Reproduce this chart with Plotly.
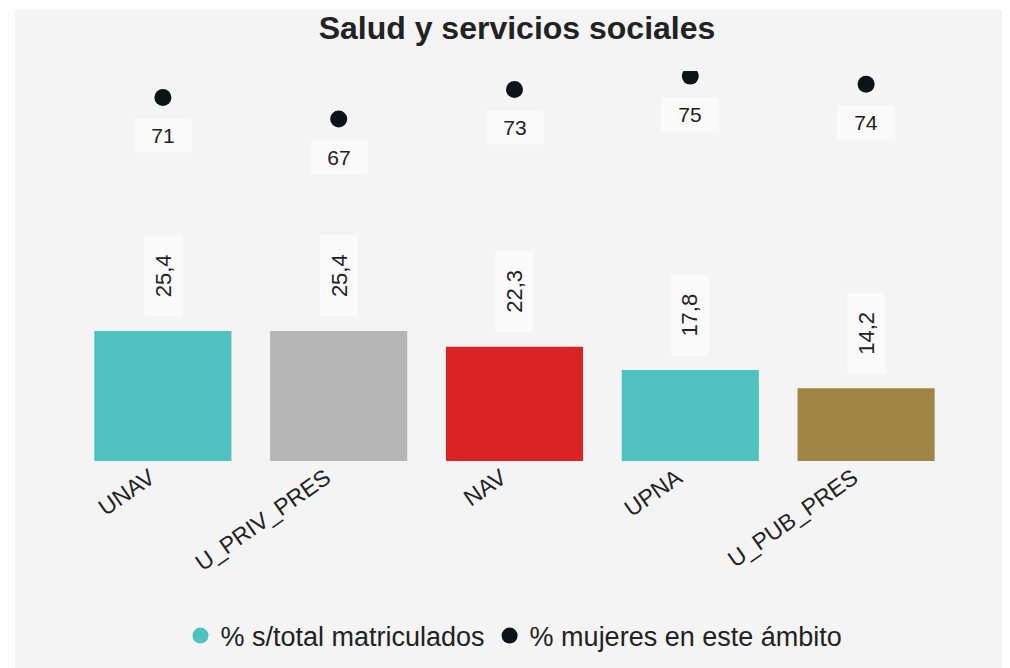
import plotly.graph_objects as go

categories = ["UNAV", "U_PRIV_PRES", "NAV", "UPNA", "U_PUB_PRES"]
pct_matriculados = [25.4, 25.4, 22.3, 17.8, 14.2]
pct_mujeres = [71.0, 66.8, 72.6, 75.2, 73.6]
bar_colors = ["#4fc2bf", "#b5b5b5", "#da2325", "#4fc2bf", "#a08444"]

title_text = "Salud y servicios sociales"
legend_bar = "% s/total matriculados"
legend_dot = "% mujeres en este ámbito"

FONT = "Liberation Sans, Arial, sans-serif"
TXT = "#222222"
BG = "#f4f4f4"
OFF = 8  # page body margin
W, H = 1010, 668
ML, MT = 74.5 - OFF, 71 - OFF
PW, PH = 880, 390
MR = W - ML - PW
MB = H - MT - PH
BASE = MT + PH  # y of baseline in figure coords

fig = go.Figure()
fig.add_trace(go.Bar(
    x=categories, y=pct_matriculados, marker=dict(color=bar_colors, line=dict(width=0)),
    showlegend=False, hoverinfo="skip",
))
fig.add_trace(go.Scatter(
    x=[None], y=[None], mode="markers", marker=dict(color=bar_colors[0], size=19),
    name=legend_bar, hoverinfo="skip",
))
fig.add_trace(go.Scatter(
    x=categories, y=pct_mujeres, mode="markers",
    marker=dict(color="#0f1217", size=17), name=legend_dot, hoverinfo="skip",
    cliponaxis=True,
))

annotations = []
for c, v in zip(categories, pct_matriculados):
    annotations.append(dict(
        x=c, y=v, xref="x", yref="y", text=f"{v:.1f}".replace(".", ","),
        showarrow=False, textangle=-90, yanchor="middle", xanchor="center",
        yshift=55, bgcolor="#fafafa", width=78, height=35,
        font=dict(family=FONT, size=22, color=TXT),
    ))
for c, v in zip(categories, pct_mujeres):
    annotations.append(dict(
        x=c, y=v, xref="x", yref="y", text=f"{v:.0f}",
        showarrow=False, yanchor="middle", xanchor="center",
        yshift=-38, bgcolor="#fafafa", width=54, height=31,
        font=dict(family=FONT, size=21, color=TXT),
    ))

fig.update_layout(
    width=W, height=H,
    margin=dict(l=ML, r=MR, t=MT, b=MB, pad=0),
    paper_bgcolor=BG, plot_bgcolor="rgba(0,0,0,0)",
    font=dict(family=FONT, size=22, color=TXT),
    title=dict(text=f"<b>{title_text}</b>", x=(517 - OFF) / W, xref="container",
               xanchor="center",
               y=1 - (28 - OFF) / H, yref="container", yanchor="middle",
               font=dict(family=FONT, size=32, color=TXT)),
    bargap=0.22,
    showlegend=True,
    legend=dict(orientation="h", x=((514 - OFF) - ML) / PW, xanchor="center",
                y=-((636 - OFF) - BASE) / PH,
                yanchor="middle", font=dict(family=FONT, size=27, color=TXT),
                bgcolor="rgba(0,0,0,0)", itemwidth=30),
    xaxis=dict(tickangle=-35, showgrid=False, zeroline=False, showline=False,
               ticks="", tickfont=dict(family=FONT, size=23, color=TXT),
               ticklabelshift=-13, ticklabelstandoff=-2,
               range=[-0.5, 4.5]),
    yaxis=dict(range=[0, 76.2], visible=False, showgrid=False, zeroline=False),
    annotations=annotations,
    shapes=[
        dict(type="rect", xref="paper", yref="paper", layer="below",
             x0=(0 - ML) / PW, x1=((14 - OFF) - ML) / PW,
             y0=-(H - BASE) / PH - 0.05, y1=BASE / PH + 0.05,
             fillcolor="white", line=dict(width=0)),
        dict(type="rect", xref="paper", yref="paper", layer="below",
             x0=(0 - ML) / PW - 0.05, x1=(W - ML) / PW + 0.05,
             y0=(BASE - (10 - OFF)) / PH, y1=BASE / PH + 0.05,
             fillcolor="white", line=dict(width=0)),
    ],
)

fig.write_html("out.html")
